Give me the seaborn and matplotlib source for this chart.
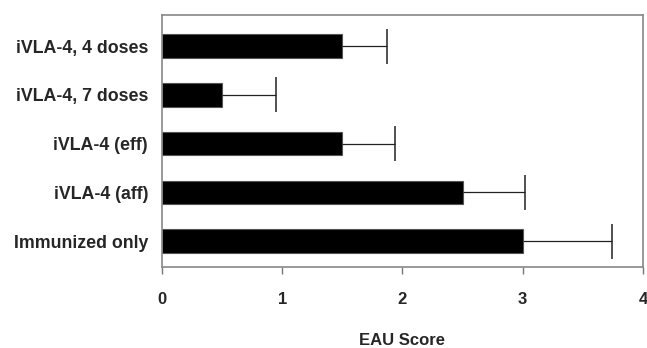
import pandas as pd
import numpy as np
import seaborn as sns
import matplotlib.pyplot as plt

# EAU scores per group
groups = ['iVLA-4, 4 doses', 'iVLA-4, 7 doses', 'iVLA-4 (eff)', 'iVLA-4 (aff)', 'Immunized only']
scores = [1.5, 0.5, 1.5, 2.5, 3.0]
errors = [0.37, 0.45, 0.44, 0.52, 0.74]

df = pd.DataFrame({'group': groups, 'score': scores, 'err': errors})

sns.set_style("white")
plt.rcParams['font.family'] = ['Liberation Sans', 'DejaVu Sans']

fig, ax = plt.subplots(figsize=(6.47, 3.48), dpi=100)
fig.subplots_adjust(left=0.2504, right=0.9938, top=0.957, bottom=0.2328)

sns.barplot(x='score', y='group', data=df, orient='h', color='black',
            width=0.48, errorbar=None, edgecolor='#555555', linewidth=0.8,
            saturation=1, ax=ax)

# one-sided error bars (upper side only), cap only at the top end
ypos = np.arange(len(groups))
tops = df['score'] + df['err']
ax.hlines(ypos, df['score'], tops, color='#222222', linewidth=0.9)
ax.vlines(tops, ypos - 0.36, ypos + 0.36, color='#222222', linewidth=1.1)

ax.set_xlim(0, 4)
ax.set_ylim(4.53, -0.64)
ax.set_xticks([0, 1, 2, 3, 4])
ax.set_xticklabels(['0', '1', '2', '3', '4'], fontsize=12, fontweight='bold')
ax.set_yticks(ypos)
ax.set_yticklabels(groups, fontsize=12.8, fontweight='bold')
ax.tick_params(axis='y', length=0, pad=10)
ax.tick_params(axis='x', direction='out', length=5, width=1, color='#777777',
               pad=13, bottom=True)
ax.set_xlabel('EAU Score', fontsize=12, fontweight='bold', labelpad=19)
ax.set_ylabel('')

for s in ax.spines.values():
    s.set_color('#888888')
    s.set_linewidth(1.2)
    s.set_visible(True)

plt.savefig('out.png', dpi=100)
